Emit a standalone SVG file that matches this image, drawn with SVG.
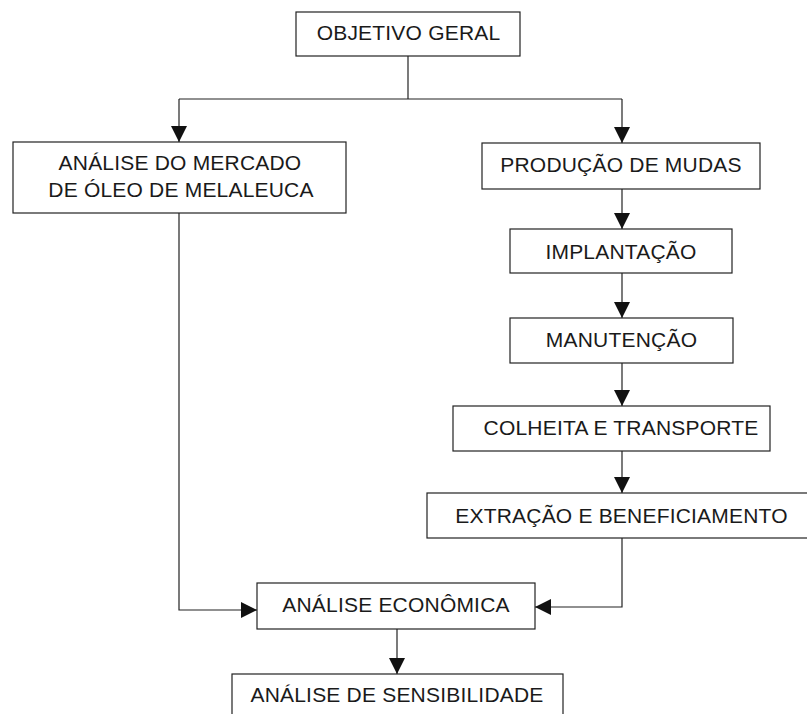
<svg xmlns="http://www.w3.org/2000/svg" width="807" height="714" viewBox="0 0 807 714">
<style>
.box{fill:#fff;stroke:#222;stroke-width:1.2}
.t{font-family:"Liberation Sans",Arial,sans-serif;font-size:21px;fill:#1a1a1a;text-anchor:middle;letter-spacing:0.2px}
.c{fill:none;stroke:#222;stroke-width:1.2}
</style>
<defs>
<marker id="ah" markerUnits="userSpaceOnUse" markerWidth="17" markerHeight="17" refX="16" refY="8" orient="auto">
<path d="M0,0 L16,8 L0,16 z" fill="#111"/>
</marker>
</defs>
<rect width="807" height="714" fill="#fff"/>
<g id="connectors">
<path class="c" d="M408,56 V99"/>
<path class="c" d="M179,99 H622"/>
<path class="c" d="M179,99 V142" marker-end="url(#ah)"/>
<path class="c" d="M622,99 V143" marker-end="url(#ah)"/>
<path class="c" d="M622,189 V229" marker-end="url(#ah)"/>
<path class="c" d="M622,273 V318" marker-end="url(#ah)"/>
<path class="c" d="M622,363 V406" marker-end="url(#ah)"/>
<path class="c" d="M622,451 V493" marker-end="url(#ah)"/>
<path class="c" d="M179,213 V610 H257" marker-end="url(#ah)"/>
<path class="c" d="M622,538 V607 H535" marker-end="url(#ah)"/>
<path class="c" d="M397,629 V674" marker-end="url(#ah)"/>
</g>
<g id="objetivo"><rect class="box" x="296" y="12" width="224" height="44"/><text class="t" x="408.5" y="40">OBJETIVO GERAL</text></g>
<g id="mercado"><rect class="box" x="13" y="142" width="333" height="71"/><text class="t" x="180" y="170">ANÁLISE DO MERCADO</text><text class="t" x="181" y="197">DE ÓLEO DE MELALEUCA</text></g>
<g id="producao"><rect class="box" x="482" y="143" width="278" height="46"/><text class="t" x="621" y="172">PRODUÇÃO DE MUDAS</text></g>
<g id="implantacao"><rect class="box" x="510" y="229" width="222" height="44"/><text class="t" x="621" y="259">IMPLANTAÇÃO</text></g>
<g id="manutencao"><rect class="box" x="510" y="318" width="223" height="45"/><text class="t" x="621.5" y="347">MANUTENÇÃO</text></g>
<g id="colheita"><rect class="box" x="453" y="406" width="317" height="45"/><text class="t" x="621" y="435">COLHEITA E TRANSPORTE</text></g>
<g id="extracao"><rect class="box" x="427" y="493" width="390" height="45"/><text class="t" x="621.5" y="523">EXTRAÇÃO E BENEFICIAMENTO</text></g>
<g id="economica"><rect class="box" x="257" y="583" width="278" height="46"/><text class="t" x="396" y="612">ANÁLISE ECONÔMICA</text></g>
<g id="sensibilidade"><rect class="box" x="232" y="674" width="331" height="50"/><text class="t" x="397" y="702">ANÁLISE DE SENSIBILIDADE</text></g>
</svg>
